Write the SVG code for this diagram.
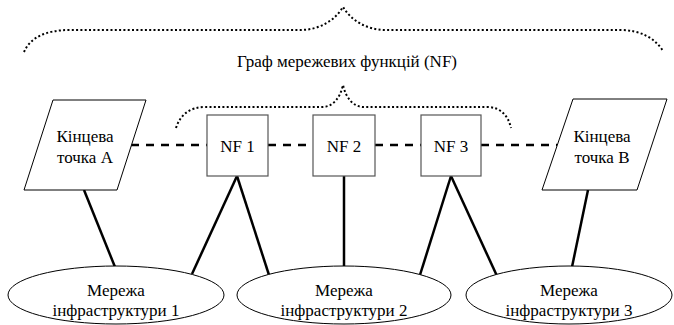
<svg xmlns="http://www.w3.org/2000/svg" width="674" height="325" viewBox="0 0 674 325">
  <style>
    .shape { fill: #fff; stroke: #000; stroke-width: 1; }
    .box { fill: #fff; stroke: #555; stroke-width: 1.2; }
    .link { stroke: #000; stroke-width: 2.5; fill: none; }
    .dash { stroke: #000; stroke-width: 2.5; fill: none; stroke-dasharray: 8 7; }
    .brace { stroke: #000; stroke-width: 2; fill: none; stroke-dasharray: 2 2.3; }
  </style>
  <rect width="674" height="325" fill="#fff"/>

  <!-- graph braces and caption -->
  <g id="braces">
    <path class="brace" d="M24,52 C30,38 45,30 70,30 L300,30 C320,30 335,20 343,7 C351,20 366,30 386,30 L620,30 C640,30 655,38 663,51"/>
    <path class="brace" d="M176,128 C180,115 190,107 205,107 L322,107 C333,107 340,98 343,85 C346,98 353,107 364,107 L487,107 C500,107 508,115 511,128"/>
    <text x="347" y="67" font-size="17" font-family="Liberation Serif" text-anchor="middle">Граф мережевих функцій (NF)</text>
  </g>

  <!-- connectors -->
  <g id="connectors">
    <line class="dash" x1="131" y1="145" x2="207" y2="145"/>
    <line class="dash" x1="268" y1="145" x2="313" y2="145"/>
    <line class="dash" x1="375" y1="145" x2="421" y2="145"/>
    <line class="dash" x1="481" y1="145" x2="557" y2="145"/>
    <line class="link" x1="84" y1="190" x2="115" y2="267"/>
    <line class="link" x1="237" y1="176" x2="192" y2="274"/>
    <line class="link" x1="237" y1="176" x2="269" y2="275"/>
    <line class="link" x1="344" y1="176" x2="344" y2="267"/>
    <line class="link" x1="451" y1="176" x2="420" y2="275"/>
    <line class="link" x1="451" y1="176" x2="497" y2="276"/>
    <line class="link" x1="588" y1="190" x2="572" y2="267"/>
  </g>

  <g id="endpoint-a">
    <polygon class="shape" points="53,100 146,100 117,190 24,190"/>
    <text x="85" y="142" font-size="17" font-family="Liberation Serif" text-anchor="middle">Кінцева</text>
    <text x="85" y="163" font-size="17" font-family="Liberation Serif" text-anchor="middle">точка А</text>
  </g>
  <g id="nf1">
    <rect class="box" x="207" y="115" width="61" height="61"/>
    <text x="237.5" y="152" font-size="17" font-family="Liberation Serif" text-anchor="middle">NF 1</text>
  </g>
  <g id="nf2">
    <rect class="box" x="313" y="115" width="62" height="61"/>
    <text x="344" y="152" font-size="17" font-family="Liberation Serif" text-anchor="middle">NF 2</text>
  </g>
  <g id="nf3">
    <rect class="box" x="421" y="115" width="60" height="61"/>
    <text x="451" y="152" font-size="17" font-family="Liberation Serif" text-anchor="middle">NF 3</text>
  </g>
  <g id="endpoint-b">
    <polygon class="shape" points="573,99 667,99 637,190 542,190"/>
    <text x="602" y="142" font-size="17" font-family="Liberation Serif" text-anchor="middle">Кінцева</text>
    <text x="602" y="163" font-size="17" font-family="Liberation Serif" text-anchor="middle">точка В</text>
  </g>

  <g id="infra1">
    <ellipse class="shape" cx="116" cy="295" rx="108" ry="29"/>
    <text x="116" y="296" font-size="17" font-family="Liberation Serif" text-anchor="middle">Мережа</text>
    <text x="116" y="316" font-size="17" font-family="Liberation Serif" text-anchor="middle">інфраструктури 1</text>
  </g>
  <g id="infra2">
    <ellipse class="shape" cx="344" cy="295" rx="107" ry="29"/>
    <text x="344" y="296" font-size="17" font-family="Liberation Serif" text-anchor="middle">Мережа</text>
    <text x="344" y="316" font-size="17" font-family="Liberation Serif" text-anchor="middle">інфраструктури 2</text>
  </g>
  <g id="infra3">
    <ellipse class="shape" cx="569" cy="295" rx="103" ry="29"/>
    <text x="569" y="296" font-size="17" font-family="Liberation Serif" text-anchor="middle">Мережа</text>
    <text x="569" y="316" font-size="17" font-family="Liberation Serif" text-anchor="middle">інфраструктури 3</text>
  </g>
</svg>
